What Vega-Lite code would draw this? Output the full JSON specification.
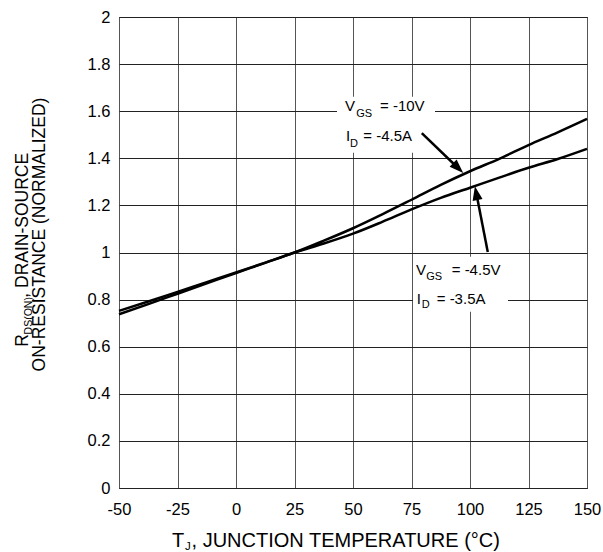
{
  "$schema": "https://vega.github.io/schema/vega-lite/v6.json",
  "width": 468,
  "height": 471,
  "autosize": {"type": "none"},
  "padding": {"left": 119, "top": 17, "right": 16, "bottom": 64},
  "background": "white",
  "config": {
    "view": {"stroke": "black", "strokeWidth": 1},
    "font": "Liberation Sans"
  },
  "datasets": {
    "curves": [
      {"t": -50, "r": 0.752, "s": "VGS=-10V"},
      {"t": -37.5, "r": 0.792, "s": "VGS=-10V"},
      {"t": -25, "r": 0.833, "s": "VGS=-10V"},
      {"t": -12.5, "r": 0.874, "s": "VGS=-10V"},
      {"t": 0, "r": 0.915, "s": "VGS=-10V"},
      {"t": 12.5, "r": 0.957, "s": "VGS=-10V"},
      {"t": 25, "r": 1.0, "s": "VGS=-10V"},
      {"t": 37.5, "r": 1.05, "s": "VGS=-10V"},
      {"t": 50, "r": 1.103, "s": "VGS=-10V"},
      {"t": 62.5, "r": 1.162, "s": "VGS=-10V"},
      {"t": 75, "r": 1.224, "s": "VGS=-10V"},
      {"t": 87.5, "r": 1.287, "s": "VGS=-10V"},
      {"t": 100, "r": 1.345, "s": "VGS=-10V"},
      {"t": 112.5, "r": 1.398, "s": "VGS=-10V"},
      {"t": 125, "r": 1.456, "s": "VGS=-10V"},
      {"t": 137.5, "r": 1.51, "s": "VGS=-10V"},
      {"t": 150, "r": 1.567, "s": "VGS=-10V"},
      {"t": -50, "r": 0.738, "s": "VGS=-4.5V"},
      {"t": -37.5, "r": 0.781, "s": "VGS=-4.5V"},
      {"t": -25, "r": 0.825, "s": "VGS=-4.5V"},
      {"t": -12.5, "r": 0.869, "s": "VGS=-4.5V"},
      {"t": 0, "r": 0.913, "s": "VGS=-4.5V"},
      {"t": 12.5, "r": 0.956, "s": "VGS=-4.5V"},
      {"t": 25, "r": 1.0, "s": "VGS=-4.5V"},
      {"t": 37.5, "r": 1.038, "s": "VGS=-4.5V"},
      {"t": 50, "r": 1.08, "s": "VGS=-4.5V"},
      {"t": 62.5, "r": 1.13, "s": "VGS=-4.5V"},
      {"t": 75, "r": 1.183, "s": "VGS=-4.5V"},
      {"t": 87.5, "r": 1.232, "s": "VGS=-4.5V"},
      {"t": 100, "r": 1.275, "s": "VGS=-4.5V"},
      {"t": 112.5, "r": 1.318, "s": "VGS=-4.5V"},
      {"t": 125, "r": 1.36, "s": "VGS=-4.5V"},
      {"t": 137.5, "r": 1.397, "s": "VGS=-4.5V"},
      {"t": 150, "r": 1.44, "s": "VGS=-4.5V"}
    ],
    "boxes": [
      {"t1": 43.16, "t2": 85.04, "r1": 1.6616, "r2": 1.4238},
      {"t1": 75.64, "t2": 116.24, "r1": 0.982, "r2": 0.7486}
    ],
    "arrows": [
      {"t1": 79.4, "r1": 1.507, "t2": 94.66, "r2": 1.361, "tt": 97.1, "rt": 1.338, "ang": 133.9},
      {"t1": 107.6, "r1": 1.002, "t2": 102.78, "r2": 1.247, "tt": 102.1, "rt": 1.281, "ang": 349}
    ],
    "labels": [
      {"t": 46.58, "r": 1.599, "txt": "V"},
      {"t": 61.54, "r": 1.599, "txt": "= -10V"},
      {"t": 47.01, "r": 1.472, "txt": "I"},
      {"t": 54.4, "r": 1.472, "txt": "= -4.5A"},
      {"t": 76.92, "r": 0.906, "txt": "V"},
      {"t": 92.18, "r": 0.906, "txt": "= -4.5V"},
      {"t": 77.22, "r": 0.7826, "txt": "I"},
      {"t": 85.77, "r": 0.7826, "txt": "= -3.5A"}
    ],
    "subs": [
      {"t": 51.4, "r": 1.575, "txt": "GS"},
      {"t": 48.72, "r": 1.448, "txt": "D"},
      {"t": 81.3, "r": 0.8815, "txt": "GS"},
      {"t": 79.36, "r": 0.7643, "txt": "D"}
    ],
    "xtitle": [
      {"t": -27.35, "r": -0.25, "txt": "T"},
      {"t": -19.0, "r": -0.25, "txt": ", JUNCTION TEMPERATURE (°C)"}
    ],
    "xtitlesub": [
      {"t": -21.8, "r": -0.262, "txt": "J"}
    ],
    "ytitle": [
      {"t": -88.89, "r": 0.6, "txt": "R"},
      {"t": -88.89, "r": 0.808, "txt": ", DRAIN-SOURCE"},
      {"t": -81.62, "r": 0.495, "txt": "ON-RESISTANCE (NORMALIZED)"}
    ],
    "ytitlesub": [
      {"t": -87.3, "r": 0.652, "txt": "DS(ON)"}
    ]
  },
  "layer": [
    {
      "data": {"name": "boxes"},
      "mark": {"type": "rect", "fill": "white", "stroke": null},
      "encoding": {
        "x": {"field": "t1", "type": "quantitative", "scale": {"domain": [-50, 150], "nice": false, "zero": false},
          "axis": {"values": [-50, -25, 0, 25, 50, 75, 100, 125, 150], "labelExpr": "replace(datum.label, '\u2212', '-')", "title": null, "grid": true, "gridColor": "#555", "gridWidth": 1, "ticks": false, "domain": false, "labelFontSize": 16.5, "labelColor": "black", "labelPadding": 26, "labelBaseline": "alphabetic", "labelFlush": false}},
        "x2": {"field": "t2"},
        "y": {"field": "r1", "type": "quantitative", "scale": {"domain": [0, 2], "nice": false, "zero": false},
          "axis": {"values": [0, 0.2, 0.4, 0.6, 0.8, 1, 1.2, 1.4, 1.6, 1.8, 2], "format": "~g", "title": null, "grid": true, "gridColor": "#222", "gridWidth": 1, "ticks": false, "domain": false, "labelFontSize": 16.5, "labelColor": "black", "labelPadding": 9, "labelFlush": false}},
        "y2": {"field": "r2"}
      }
    },
    {
      "data": {"name": "curves"},
      "mark": {"type": "line", "strokeWidth": 2.5, "interpolate": "monotone", "color": "black"},
      "encoding": {
        "x": {"field": "t", "type": "quantitative"},
        "y": {"field": "r", "type": "quantitative"},
        "detail": {"field": "s", "type": "nominal"}
      }
    },
    {
      "data": {"name": "arrows"},
      "mark": {"type": "rule", "strokeWidth": 2.5, "color": "black"},
      "encoding": {
        "x": {"field": "t1", "type": "quantitative"},
        "y": {"field": "r1", "type": "quantitative"},
        "x2": {"field": "t2"},
        "y2": {"field": "r2"}
      }
    },
    {
      "data": {"name": "arrows"},
      "mark": {"type": "point", "shape": "M0,0L-0.36,1L0.36,1Z", "filled": true, "color": "black", "size": 784, "opacity": 1},
      "encoding": {
        "x": {"field": "tt", "type": "quantitative"},
        "y": {"field": "rt", "type": "quantitative"},
        "angle": {"field": "ang", "type": "quantitative", "scale": null}
      }
    },
    {
      "data": {"name": "labels"},
      "mark": {"type": "text", "align": "left", "baseline": "alphabetic", "fontSize": 15, "color": "black"},
      "encoding": {
        "x": {"field": "t", "type": "quantitative"},
        "y": {"field": "r", "type": "quantitative"},
        "text": {"field": "txt"}
      }
    },
    {
      "data": {"name": "subs"},
      "mark": {"type": "text", "align": "left", "baseline": "alphabetic", "fontSize": 11, "color": "black"},
      "encoding": {
        "x": {"field": "t", "type": "quantitative"},
        "y": {"field": "r", "type": "quantitative"},
        "text": {"field": "txt"}
      }
    },
    {
      "data": {"name": "xtitle"},
      "mark": {"type": "text", "align": "left", "baseline": "alphabetic", "fontSize": 20, "color": "black"},
      "encoding": {
        "x": {"field": "t", "type": "quantitative"},
        "y": {"field": "r", "type": "quantitative"},
        "text": {"field": "txt"}
      }
    },
    {
      "data": {"name": "xtitlesub"},
      "mark": {"type": "text", "align": "left", "baseline": "alphabetic", "fontSize": 11.5, "color": "black"},
      "encoding": {
        "x": {"field": "t", "type": "quantitative"},
        "y": {"field": "r", "type": "quantitative"},
        "text": {"field": "txt"}
      }
    },
    {
      "data": {"name": "ytitle"},
      "mark": {"type": "text", "align": "left", "baseline": "alphabetic", "fontSize": 17.5, "angle": 270, "color": "black"},
      "encoding": {
        "x": {"field": "t", "type": "quantitative"},
        "y": {"field": "r", "type": "quantitative"},
        "text": {"field": "txt"}
      }
    },
    {
      "data": {"name": "ytitlesub"},
      "mark": {"type": "text", "align": "left", "baseline": "alphabetic", "fontSize": 10.5, "angle": 270, "color": "black"},
      "encoding": {
        "x": {"field": "t", "type": "quantitative"},
        "y": {"field": "r", "type": "quantitative"},
        "text": {"field": "txt"}
      }
    }
  ]
}
